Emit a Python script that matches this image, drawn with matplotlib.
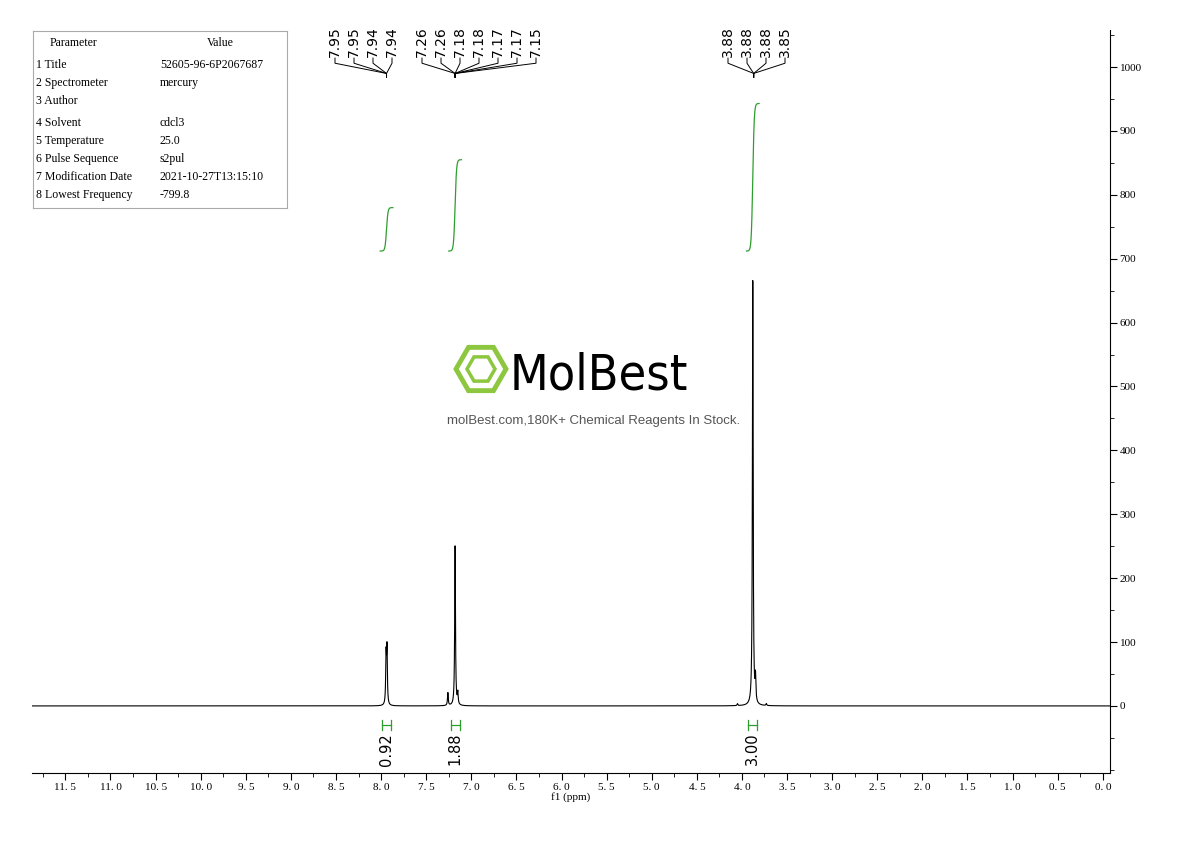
import numpy as np
import matplotlib
matplotlib.use("Agg")
import matplotlib.pyplot as plt
from matplotlib.patches import RegularPolygon, Circle

# peaks (ppm, height)
peak_ppm = [7.945, 7.935, 7.26, 7.18, 7.15, 4.05, 3.88, 3.85, 3.73]
peak_h = [75, 85, 20, 250, 18, 3, 665, 38, 3]
peak_w = 0.005

integ_centers = [7.94, 7.18, 3.88]
integ_values = ["0.92", "1.88", "3.00"]
integ_tops = [780, 855, 943]

label_groups = [
    (["7.95", "7.95", "7.94", "7.94"], 7.94),
    (["7.26", "7.26", "7.18", "7.18", "7.17", "7.17", "7.15"], 7.18),
    (["3.88", "3.88", "3.88", "3.85"], 3.87),
]
label_start_px = [335, 422, 728]

params = ["1 Title", "2 Spectrometer", "3 Author", "4 Solvent", "5 Temperature",
          "6 Pulse Sequence", "7 Modification Date", "8 Lowest Frequency"]
values = ["52605-96-6P2067687", "mercury", "", "cdcl3", "25.0", "s2pul",
          "2021-10-27T13:15:10", "-799.8"]

fig = plt.figure(figsize=(11.9, 8.41), dpi=100)
ax = fig.add_axes([32/1190, 1-773/841, (1110-32)/1190, (773-30)/841])
x0, x1 = 11.87, -0.08
ax.set_xlim(x0, x1)
ax.set_ylim(-105, 1058)

x = np.linspace(11.87, -0.08, 60000)
y = np.zeros_like(x)
for p, h in zip(peak_ppm, peak_h):
    y += h * peak_w**2 / ((x - p)**2 + peak_w**2)
ax.plot(x, y, color="black", lw=0.8)

green = "#2e9e2e"
for c, top in zip(integ_centers, integ_tops):
    xs = np.linspace(c + 0.07, c - 0.07, 300)
    cum = 1 / (1 + np.exp(-(c - xs) / 0.008))
    ax.plot(xs, 712 + (top - 712) * cum, color=green, lw=0.9)
    ax.plot([c + 0.05, c - 0.05], [-30, -30], color=green, lw=0.9)
    ax.plot([c + 0.05, c + 0.05], [-22, -38], color=green, lw=0.9)
    ax.plot([c - 0.05, c - 0.05], [-22, -38], color=green, lw=0.9)
for c, v in zip(integ_centers, integ_values):
    ax.text(c, -42, v, rotation=90, ha="center", va="top", fontsize=10.5, family="DejaVu Sans")

def px2ppm(px):
    return x0 + (px - 32) / (1110 - 32) * (x1 - x0)

for (labs, target), sp in zip(label_groups, label_start_px):
    for i, lab in enumerate(labs):
        lx = px2ppm(sp + 19 * i)
        ax.text(lx, 1016, lab, rotation=90, ha="center", va="bottom", fontsize=10, family="DejaVu Sans")
        ax.plot([lx, lx, target, target], [1014, 1006, 990, 984], color="black", lw=0.7)

for s in ["top", "left"]:
    ax.spines[s].set_visible(False)
ax.yaxis.tick_right()
ax.set_yticks(np.arange(0, 1001, 100))
ax.set_yticks(np.arange(-100, 1051, 50), minor=True)
ax.set_xticks(np.arange(0, 11.6, 0.5))
ax.set_xticks(np.arange(0, 11.9, 0.25), minor=True)
ax.set_xticklabels([f"{v:.1f}".replace(".", ". ") for v in np.arange(0, 11.6, 0.5)], family="Liberation Serif", fontsize=8)
ax.set_yticklabels([str(v) for v in range(0, 1001, 100)], family="Liberation Serif", fontsize=8)
ax.tick_params(direction="out", length=5, width=0.8, pad=2)
ax.tick_params(which="minor", direction="out", length=3)
ax.set_xlabel("f1 (ppm)", family="Liberation Serif", fontsize=8, labelpad=0)

# parameter table
tax = fig.add_axes([33/1190, 1-208/841, 254/1190, 177/841])
tax.set_xlim(0, 254); tax.set_ylim(177, 0)
tax.set_xticks([]); tax.set_yticks([])
for s in tax.spines.values():
    s.set_color("#aaaaaa"); s.set_linewidth(0.8)
tax.text(40, 12, "Parameter", ha="center", va="center", family="Liberation Serif", fontsize=8.5)
tax.text(187, 12, "Value", ha="center", va="center", family="Liberation Serif", fontsize=8.5)
rows_y = [34, 52, 70, 92, 110, 128, 146, 164]
for ry, p, v in zip(rows_y, params, values):
    tax.text(3, ry, p, va="center", family="Liberation Serif", fontsize=8.5)
    tax.text(127, ry, v, va="center", family="Liberation Serif", fontsize=8.5)

# watermark
wax = fig.add_axes([0, 0, 1, 1], facecolor="none")
wax.set_xlim(0, 1190); wax.set_ylim(841, 0); wax.axis("off")
wax.add_patch(RegularPolygon((481, 369), 6, radius=25, orientation=np.pi/6, fill=False, ec="#8dc63f", lw=3.5))
wax.add_patch(RegularPolygon((481, 369), 6, radius=14, orientation=np.pi/6, fill=False, ec="#8dc63f", lw=2.5))
t = wax.text(510, 375, "MolBest", ha="left", va="center", fontsize=36, family="DejaVu Sans",
             fontstretch="condensed", color="black")
wax.text(594, 421, "molBest.com,180K+ Chemical Reagents In Stock.", ha="center", va="center",
         fontsize=9.5, family="Liberation Sans", color="#555555")

fig.savefig("out.png", dpi=100)
